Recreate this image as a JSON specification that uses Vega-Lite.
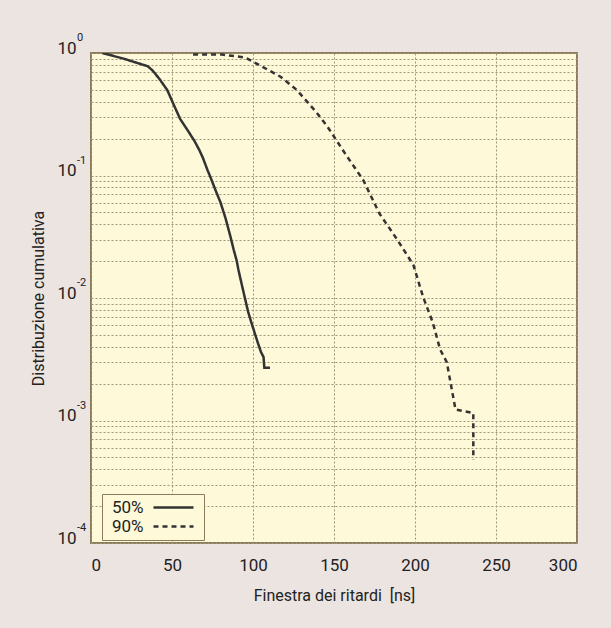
{
  "$schema": "https://vega.github.io/schema/vega-lite/v6.json",
  "width": 486,
  "height": 490,
  "autosize": {"type": "none"},
  "padding": {"left": 91, "top": 53, "right": 34, "bottom": 85},
  "background": "#ece4e0",
  "config": {
    "font": "Liberation Sans Narrow, Roboto, sans-serif",
    "view": {"fill": "#fef9d8", "stroke": "#8b7d5b", "strokeWidth": 2},
    "axis": {
      "grid": true, "gridColor": "#9e9679", "gridDash": [2, 2], "gridWidth": 1, "gridOpacity": 1,
      "domain": false, "ticks": false,
      "labelColor": "#222222", "titleColor": "#222222",
      "labelFontSize": 17, "titleFontSize": 16, "titleFontWeight": "normal"
    }
  },
  "datasets": {
    "curves": [
      {"series": "50%", "i": 0, "x": 7, "y": 1.0},
      {"series": "50%", "i": 1, "x": 20, "y": 0.9},
      {"series": "50%", "i": 2, "x": 35, "y": 0.78},
      {"series": "50%", "i": 3, "x": 38, "y": 0.72},
      {"series": "50%", "i": 4, "x": 42, "y": 0.62},
      {"series": "50%", "i": 5, "x": 47, "y": 0.5},
      {"series": "50%", "i": 6, "x": 51, "y": 0.38},
      {"series": "50%", "i": 7, "x": 55, "y": 0.29},
      {"series": "50%", "i": 8, "x": 60, "y": 0.23},
      {"series": "50%", "i": 9, "x": 64, "y": 0.19},
      {"series": "50%", "i": 10, "x": 67, "y": 0.16},
      {"series": "50%", "i": 11, "x": 69, "y": 0.14},
      {"series": "50%", "i": 12, "x": 72, "y": 0.11},
      {"series": "50%", "i": 13, "x": 74, "y": 0.095},
      {"series": "50%", "i": 14, "x": 77, "y": 0.075},
      {"series": "50%", "i": 15, "x": 80, "y": 0.06},
      {"series": "50%", "i": 16, "x": 83, "y": 0.045},
      {"series": "50%", "i": 17, "x": 86, "y": 0.032},
      {"series": "50%", "i": 18, "x": 88, "y": 0.025},
      {"series": "50%", "i": 19, "x": 90, "y": 0.02},
      {"series": "50%", "i": 20, "x": 91, "y": 0.017},
      {"series": "50%", "i": 21, "x": 93, "y": 0.013},
      {"series": "50%", "i": 22, "x": 95, "y": 0.01},
      {"series": "50%", "i": 23, "x": 97, "y": 0.0077},
      {"series": "50%", "i": 24, "x": 99, "y": 0.0063},
      {"series": "50%", "i": 25, "x": 101, "y": 0.0052},
      {"series": "50%", "i": 26, "x": 103, "y": 0.0043},
      {"series": "50%", "i": 27, "x": 105, "y": 0.0036},
      {"series": "50%", "i": 28, "x": 106.5, "y": 0.0033},
      {"series": "50%", "i": 29, "x": 107, "y": 0.0027},
      {"series": "50%", "i": 30, "x": 110.5, "y": 0.0027},
      {"series": "90%", "i": 0, "x": 63, "y": 0.97},
      {"series": "90%", "i": 1, "x": 81, "y": 0.97},
      {"series": "90%", "i": 2, "x": 95, "y": 0.92},
      {"series": "90%", "i": 3, "x": 100, "y": 0.85},
      {"series": "90%", "i": 4, "x": 110, "y": 0.72},
      {"series": "90%", "i": 5, "x": 117, "y": 0.64},
      {"series": "90%", "i": 6, "x": 127, "y": 0.5},
      {"series": "90%", "i": 7, "x": 139, "y": 0.33},
      {"series": "90%", "i": 8, "x": 146, "y": 0.25},
      {"series": "90%", "i": 9, "x": 157, "y": 0.15},
      {"series": "90%", "i": 10, "x": 168, "y": 0.092},
      {"series": "90%", "i": 11, "x": 178, "y": 0.049},
      {"series": "90%", "i": 12, "x": 189, "y": 0.03},
      {"series": "90%", "i": 13, "x": 199, "y": 0.0186},
      {"series": "90%", "i": 14, "x": 205, "y": 0.0102},
      {"series": "90%", "i": 15, "x": 211, "y": 0.0063},
      {"series": "90%", "i": 16, "x": 215.5, "y": 0.0038},
      {"series": "90%", "i": 17, "x": 219.6, "y": 0.003},
      {"series": "90%", "i": 18, "x": 225, "y": 0.00123},
      {"series": "90%", "i": 19, "x": 236, "y": 0.00115},
      {"series": "90%", "i": 20, "x": 236, "y": 0.00048}
    ],
    "exps": [
      {"v": 1, "e": "0"},
      {"v": 0.1, "e": "-1"},
      {"v": 0.01, "e": "-2"},
      {"v": 0.001, "e": "-3"},
      {"v": 0.0001, "e": "-4"}
    ]
  },
  "layer": [
    {
      "data": {"name": "curves"},
      "mark": {"type": "line", "color": "#333333", "strokeWidth": 2.5, "clip": true},
      "encoding": {
        "x": {
          "field": "x", "type": "quantitative",
          "scale": {"domain": [0, 300], "nice": false},
          "axis": {"values": [0, 50, 100, 150, 200, 250, 300], "title": "Finestra dei ritardi\u00a0\u00a0[ns]", "labelPadding": 14, "titlePadding": 14}
        },
        "y": {
          "field": "y", "type": "quantitative",
          "scale": {"type": "log", "domain": [0.0001, 1], "nice": false},
          "axis": {
            "values": [0.0001, 0.0002, 0.0003, 0.0004, 0.0005, 0.0006, 0.0007, 0.0008, 0.0009, 0.001, 0.002, 0.003, 0.004, 0.005, 0.006, 0.007, 0.008, 0.009, 0.01, 0.02, 0.03, 0.04, 0.05, 0.06, 0.07, 0.08, 0.09, 0.1, 0.2, 0.3, 0.4, 0.5, 0.6, 0.7, 0.8, 0.9, 1],
            "labelExpr": "abs(log(datum.value)/LN10 - round(log(datum.value)/LN10)) < 0.000001 ? '10' : ''",
            "labelBaseline": "alphabetic",
            "labelPadding": 15,
            "title": "Distribuzione cumulativa",
            "titlePadding": 10
          }
        },
        "strokeDash": {
          "field": "series", "type": "nominal",
          "scale": {"domain": ["50%", "90%"], "range": [[1, 0], [5, 4]]},
          "legend": {
            "orient": "none", "legendX": 11, "legendY": 441, "title": null,
            "symbolType": "M-4,0H4", "symbolSize": 100, "symbolStrokeWidth": 2.5, "symbolStrokeColor": "#333333",
            "labelFontSize": 17, "labelColor": "#222222", "labelAlign": "left", "labelOffset": -70, "symbolOffset": 58,
            "strokeColor": "#8b7d5b", "fillColor": "#fef9d8", "padding": 5, "rowPadding": 1
          }
        },
        "order": {"field": "i", "type": "quantitative"}
      }
    },
    {
      "data": {"name": "exps"},
      "mark": {"type": "text", "align": "left", "baseline": "alphabetic", "dx": -14, "dy": -12, "fontSize": 11, "color": "#222222", "clip": false},
      "encoding": {
        "x": {"datum": 0, "type": "quantitative"},
        "y": {"field": "v", "type": "quantitative"},
        "text": {"field": "e"}
      }
    }
  ]
}
